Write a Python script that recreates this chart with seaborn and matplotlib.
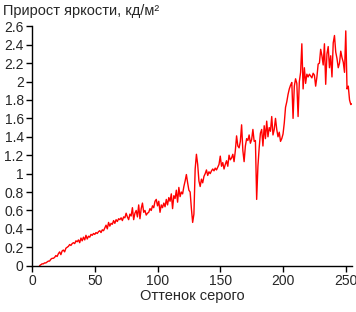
"""Brightness increment per gray level."""
import matplotlib
matplotlib.use("Agg")
import matplotlib.pyplot as plt
import seaborn as sns
import pandas as pd

NAN = float("nan")

# Gray levels 0..255 and brightness increment (cd/m2)
gray = list(range(256))
increment = [
  NAN, NAN, NAN, NAN, NAN, NAN, 0.00, 0.01, 0.02, 0.02,       # 0-9
  0.03, 0.03, 0.04, 0.05, 0.05, 0.07, 0.08, 0.08, 0.09, 0.11,  # 10-19
  0.10, 0.13, 0.15, 0.12, 0.16, 0.17, 0.15, 0.19, 0.20, 0.21,  # 20-29
  0.23, 0.22, 0.24, 0.25, 0.24, 0.27, 0.26, 0.28, 0.25, 0.30,  # 30-39
  0.27, 0.31, 0.28, 0.33, 0.29, 0.32, 0.31, 0.34, 0.33, 0.35,  # 40-49
  0.34, 0.36, 0.35, 0.37, 0.38, 0.36, 0.39, 0.38, 0.41, 0.44,  # 50-59
  0.40, 0.47, 0.43, 0.46, 0.45, 0.49, 0.46, 0.50, 0.48, 0.51,  # 60-69
  0.50, 0.52, 0.49, 0.53, 0.52, 0.57, 0.53, 0.50, 0.56, 0.54,  # 70-79
  0.63, 0.50, 0.57, 0.60, 0.53, 0.66, 0.51, 0.62, 0.68, 0.58,  # 80-89
  0.60, 0.55, 0.57, 0.58, 0.62, 0.60, 0.65, 0.63, 0.70, 0.72,  # 90-99
  0.65, 0.70, 0.58, 0.66, 0.63, 0.68, 0.64, 0.72, 0.66, 0.74,  # 100-109
  0.70, 0.78, 0.62, 0.76, 0.73, 0.82, 0.69, 0.85, 0.75, 0.80,  # 110-119
  0.78, 0.86, 0.92, 0.99, 0.90, 0.82, 0.80, 0.62, 0.47, 0.56,  # 120-129
  1.05, 1.21, 1.10, 0.92, 0.86, 0.94, 0.90, 0.97, 1.00, 1.04,  # 130-139
  0.98, 1.02, 1.00, 1.03, 1.05, 1.03, 1.06, 1.04, 1.07, 1.10,  # 140-149
  1.19, 1.08, 1.12, 1.05, 1.10, 1.14, 1.08, 1.20, 1.15, 1.17,  # 150-159
  1.21, 1.13, 1.25, 1.41, 1.30, 1.28, 1.35, 1.53, 1.25, 1.13,  # 160-169
  1.30, 1.38, 1.36, 1.42, 1.33, 1.37, 1.48, 1.35, 1.36, 0.72,  # 170-179
  1.08, 1.28, 1.44, 1.48, 1.30, 1.52, 1.38, 1.57, 1.40, 1.50,  # 180-189
  1.46, 1.62, 1.42, 1.48, 1.60, 1.48, 1.40, 1.45, 1.35, 1.38,  # 190-199
  1.43, 1.55, 1.72, 1.78, 1.86, 1.92, 1.96, 1.99, 1.60, 1.95,  # 200-209
  2.03, 1.98, 1.62, 2.00, 2.10, 2.41, 1.92, 2.15, 1.98, 2.08,  # 210-219
  2.05, 2.08, 2.06, 2.04, 2.09, 2.07, 1.95, 2.05, 2.19, 2.20,  # 220-229
  2.35, 2.28, 2.18, 2.41, 1.97, 2.30, 2.38, 2.15, 2.28, 2.05,  # 230-239
  2.42, 2.50, 2.32, 2.25, 2.15, 2.20, 2.33, 2.26, 2.21, 2.10,  # 240-249
  2.55, 1.92, 1.95, 1.80, 1.75, 1.76,                          # 250-255
]

x_ticks = [0, 50, 100, 150, 200, 250]
y_ticks = [0, 0.2, 0.4, 0.6, 0.8, 1, 1.2, 1.4, 1.6, 1.8, 2, 2.2, 2.4, 2.6]

df = pd.DataFrame({"gray": gray, "increment": increment})

sns.set_style("ticks")
plt.rcParams["font.family"] = ["Liberation Sans", "DejaVu Sans"]

fig = plt.figure(figsize=(3.56, 3.12), dpi=100)
ax = fig.add_axes([0.0899, 0.1484, 0.899, 0.7673])

sns.lineplot(data=df, x="gray", y="increment", color="red", linewidth=1, ax=ax)

# Formatting
ax.set_xlim(0, 255)
ax.set_ylim(0, 2.6)
ax.set_xticks(x_ticks)
ax.set_yticks(y_ticks)
ax.set_yticklabels([f"{v:g}" for v in y_ticks])
ax.tick_params(axis="both", labelsize=10, length=4, width=1, color="black", pad=2)
ax.set_xlabel("Оттенок серого", fontsize=10.5, labelpad=1)
ax.set_ylabel("")
for side in ["left", "bottom"]:
  ax.spines[side].set_color("black")
  ax.spines[side].set_linewidth(1)
sns.despine(ax=ax)

fig.text(3 / 356, 1 - 11 / 312, "Прирост яркости, кд/м²", fontsize=10.5,
         ha="left", va="center")

fig.savefig("out.png", dpi=100, facecolor="white")
